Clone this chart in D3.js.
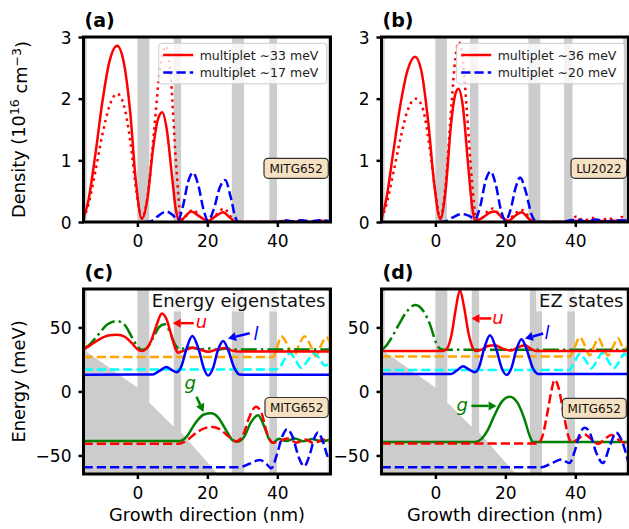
<!DOCTYPE html>
<html><head><meta charset="utf-8">
<script src="https://cdn.jsdelivr.net/npm/d3@7"></script>
<style>
body{margin:0;background:#fff}
svg{display:block}
text{font-family:"DejaVu Sans",sans-serif}
</style>
</head><body>
<svg id="chart" width="629" height="529"></svg>
<script>
// ---------------- data ----------------
const xDomain = [-15.4, 55.2];
const xTicks = [0, 20, 40];
const densDomain = [0, 3];
const densTicks = [0, 1, 2, 3];
const energyDomain = [-64.5, 80];
const energyTicks = [-50, 0, 50];

const panelTitles = ["(a)", "(b)", "(c)", "(d)"];
const legendA = ["multiplet \u223C33 meV", "multiplet \u223C17 meV"];
const legendB = ["multiplet \u223C36 meV", "multiplet \u223C20 meV"];
const sampleLabels = ["MITG652", "LU2022", "MITG652", "MITG652"];
const boxTitles = ["Energy eigenstates", "EZ states"];

// barrier layers (nm)
const barriersMITG = [[-16.7,-14.5],[0,3.4],[10.4,12.5],[27,30.5],[37.7,39.9],[54.4,57.8]];
const barriersLU = [[-16.9,-14.5],[0,3.3],[9.9,12.3],[26.6,30.0],[36.8,39.2],[53.7,57]];
// conduction-band floor in wells: [x0, E0, x1, E1] (nm, meV)
const wellFloorsMITG = [[-14.5,31,0,3],[3.4,-8.6,10.4,-27.5],[12.5,-32,27,-77],[30.5,-85,37.7,-105],[39.9,-110,54.4,-150]];

// panel (a) densities
const aRedSolid = [[-15.4,0.06],[-14,0.35],[-12,1.1],[-10,1.95],[-8,2.6],[-5.8,2.86],[-4,2.62],[-2,1.75],[-0.5,0.7],[1.3,0.05],[2.8,0.35],[4.5,1.2],[5.8,1.65],[7.1,1.78],[8.4,1.5],[9.8,0.8],[11,0.2],[12.2,0.01],[13.5,0.08],[15.4,0.17],[17.5,0.1],[20.2,0.02],[22.5,0.1],[24.5,0.16],[26.5,0.07],[28.3,0],[40,0],[42,0.02],[44.5,0],[47,0.02],[49.5,0],[52,0.02],[55.2,0]];
const aRedDotted = [[-15.4,0.05],[-14,0.28],[-12,0.82],[-10,1.42],[-8,1.88],[-5.8,2.08],[-4,1.92],[-2,1.3],[-0.3,0.5],[1.3,0.06],[3,0.45],[4.8,1.5],[6.5,2.5],[8.1,2.85],[9.6,2.3],[11,1.0],[12.6,0.04],[14,0.1],[15.9,0.2],[18,0.08],[20.2,0.02],[22.5,0.12],[24.8,0.22],[26.5,0.1],[28.3,0],[40,0],[42,0.02],[44.5,0],[47,0.03],[49.5,0],[52,0.02],[55.2,0]];
const aBlueDashed = [[2,0],[3.8,0.01],[5.5,0.08],[8.3,0.17],[10.2,0.11],[11.6,0.03],[13,0.25],[14.5,0.65],[15.9,0.8],[17.4,0.6],[19,0.18],[20.2,0.02],[21.8,0.2],[23.5,0.55],[25.1,0.68],[26.6,0.42],[28,0.08],[28.8,0],[40,0],[42,0.03],[44.5,0.01],[47,0.03],[49.5,0.01],[52,0.03],[55.2,0.01]];

// panel (b) densities
const bRedSolid = [[-15.4,0.05],[-14,0.38],[-12,1.15],[-10,1.9],[-8,2.45],[-5.8,2.68],[-4,2.45],[-2,1.6],[-0.3,0.6],[1.4,0.05],[2.9,0.5],[4.5,1.6],[5.6,2.05],[6.6,2.16],[7.8,1.9],[9.4,0.9],[10.5,0.25],[11.4,0.02],[13.5,0.07],[15.5,0.15],[17,0.17],[19,0.08],[20.9,0.02],[23,0.11],[24.7,0.16],[26.4,0.07],[28,0],[38,0],[40,0.02],[43,0.01],[46,0.02],[49,0.01],[52,0.02],[55.2,0.01]];
const bRedDotted = [[-15.4,0.05],[-14,0.28],[-12,0.8],[-10,1.35],[-8,1.8],[-5.5,2.0],[-3.5,1.82],[-1.5,1.15],[0,0.5],[1.4,0.06],[2.9,0.6],[4.6,1.9],[5.7,2.65],[6.6,2.92],[7.6,2.75],[9,1.8],[10.4,0.7],[11.6,0.08],[12.6,0.02],[14.5,0.15],[16.5,0.22],[18.5,0.1],[20.5,0.02],[22.5,0.12],[24.5,0.2],[26.5,0.1],[28,0],[36,0],[38.4,0.03],[40.4,0.09],[42.4,0.02],[44.7,0.07],[47,0.01],[49.5,0.07],[51.5,0.01],[53.3,0.08],[55.2,0.04]];
const bBlueDashed = [[1,0],[2.8,0.01],[4.8,0.07],[7.6,0.13],[9.6,0.1],[11.4,0.05],[12.8,0.25],[14.4,0.68],[15.8,0.82],[17.2,0.62],[18.8,0.18],[20,0.02],[21.5,0.2],[23,0.57],[24.2,0.72],[25.8,0.5],[27.5,0.12],[29,0],[36,0],[38,0.02],[40.5,0.04],[43,0.01],[46,0.04],[49,0.01],[52,0.03],[55.2,0.02]];

// panel (c) energy eigenstates (meV)
const cGreenDashDot = [[-15.4,33],[-13.5,37],[-11,45],[-8.5,52.5],[-5.8,55],[-3.5,51.5],[-1.5,42],[0.2,34.5],[1.4,32.5],[2.8,34],[4.5,42],[6.3,50.5],[7.8,52.5],[9.2,47],[10.7,37],[12.2,33],[13.5,33.8],[15.5,34.2],[18,32.8],[20.5,33.6],[23,32.6],[25.5,33.5],[28,32.8],[55.2,32.8]];
const cRedSolid = [[-15.4,33],[-13.5,36],[-11,40.5],[-8,43.8],[-5.8,44.3],[-3.5,42.5],[-1.5,37.5],[0.2,32.5],[1.2,31.5],[2.4,33],[4,40],[5.5,52],[7,60.9],[8.4,56],[9.6,45],[10.8,34],[11.6,30.3],[13,31.5],[15.9,34.2],[18,32.5],[20.2,31],[22.5,32.5],[25,34],[27,32],[29,31.2],[55.2,31.2]];
const cOrange = [[-15.4,26.8],[38.7,26.8],[39.8,33],[41.1,43],[42.6,38],[44.7,27.5],[46.3,37],[47.8,43],[49.3,37],[51,27.5],[52.5,36],[54,42.5],[55.2,37]];
const cCyan = [[-15.4,17.1],[38.7,17.1],[40.5,18],[42,25],[43.7,30],[45.3,24],[46.8,18.5],[48.7,24],[50.5,30],[52.2,25],[53.7,20],[55.2,25]];
const cBlueSolid = [[-15.4,13.1],[4.5,13.3],[6.3,16],[8.3,19],[10,16.5],[11.2,15],[12.5,19],[13.9,32],[15.7,43.3],[17.5,33],[19,18],[20.2,12.4],[21.6,18],[23,32],[24.5,39.4],[26,32],[27.6,19],[29.2,13.3],[31,13.1],[55.2,13.1]];
const cGreenSolid = [[-15.4,-38.8],[12.1,-38.8],[14,-35.5],[16.5,-25],[19,-18],[21.1,-17],[23,-20],[25.5,-31],[27.2,-38],[28.7,-39.3],[30.5,-35.5],[32.5,-24],[34.5,-18.6],[36.2,-27],[37.5,-36.5],[38.7,-40],[40.5,-37],[42.5,-38.8],[45,-36.8],[47.5,-39],[50,-37.2],[52.5,-39],[55.2,-37.5]];
const cRedDashed = [[-15.4,-40.9],[12,-40.9],[14,-38.5],[17,-32],[19.5,-28.5],[21.4,-27.8],[23.5,-29.5],[26,-35],[28.3,-39],[30.2,-34],[32,-20],[33.9,-12],[35.5,-17],[37,-32],[38.7,-40],[41,-38.5],[43,-36.8],[45.5,-40],[48,-37.5],[50.5,-40.5],[53,-37.5],[55.2,-40]];
const cBlueDashed = [[-15.4,-59.3],[28,-59.3],[30,-58.7],[32,-56.5],[35,-53.5],[36.8,-56.5],[38.3,-60],[39.8,-50],[41.3,-36],[42.8,-29.5],[44.3,-35],[46.2,-52],[47.7,-58.5],[49.3,-49],[50.8,-35],[51.6,-32],[53,-39],[54.5,-51.7],[55.2,-55]];

// panel (d) EZ states (meV)
const dGreenDashDot = [[-15.4,32.6],[-14.4,34.6],[-12.5,42],[-10.5,52],[-8,63],[-5.7,67.5],[-3.5,63],[-1.5,52],[0.2,38],[1.3,33.4],[2.5,32.6],[55.2,32.6]];
const dRedSolid = [[-15.4,31.5],[2,31.5],[3.2,33],[4.6,44],[5.8,64],[7,79],[8.2,66],[9.5,45],[10.8,33.5],[11.7,31.5],[13.5,33],[15,35.5],[17,36],[19.5,33],[21.7,32],[23.6,34.5],[25.6,36],[27.5,33],[28.9,31.5],[55.2,31.5]];
const dOrange = [[-15.4,27.3],[38.4,27.3],[39.6,33],[41.3,42.5],[42.7,36],[44.1,28],[45.3,35],[46.6,41.5],[48,34],[49.4,28],[50.8,35],[52.2,41.5],[53.8,34],[55.2,34.5]];
const dCyan = [[-15.4,16.8],[38.2,16.8],[39.6,22],[41.3,29.5],[43,24],[44.5,18],[46,23],[47.7,30],[49.4,24],[51,18],[52.5,23],[54,29.5],[55.2,26]];
const dBlueSolid = [[-15.4,13.7],[4.5,13.7],[6.2,16.5],[7.9,19.7],[9.7,17],[11.3,15],[12.5,19],[13.9,33],[15.6,43.9],[17.4,33],[19,18],[20.3,12.9],[21.7,18],[23.1,32],[24.6,40.7],[26.2,32],[27.8,18.5],[29.4,13.7],[55.2,13.7]];
const dGreenSolid = [[-15.4,-39.6],[11.3,-39.6],[13,-37.5],[15,-30],[17,-18],[19,-8],[21.3,-4.2],[23.5,-9],[25.5,-22],[27,-35],[27.9,-39.6],[55.2,-39.6]];
const dRedDashed = [[-15.4,-40.6],[29.4,-40.6],[30.6,-35],[32,-17],[33,-2],[34.1,9],[35.2,3],[36.5,-15],[38,-35],[38.9,-40],[40.6,-37.5],[42.7,-33.6],[44.8,-38],[46.5,-41],[48.5,-37],[50.3,-34],[52.5,-38],[54.6,-40.5],[55.2,-39.5]];
const dBlueDashed = [[-15.4,-59.3],[30.3,-59.3],[33,-56.5],[36,-53.2],[38.3,-56],[39.8,-47],[41.3,-33],[42.7,-28.3],[44.1,-32],[46,-48],[47.9,-56],[49.8,-43],[51.7,-32.3],[53.5,-40],[55.2,-56]];

// annotations: label, colour, label position (nm, meV baseline), arrow tail, arrow head
const annotC = [
  {t:"u", c:"#ff0000", tx:18.3, ty:49.3, x0:16.1, y0:53.3, x1:10.1, y1:53.3},
  {t:"l", c:"#0000ff", tx:33.9, ty:39.9, x0:32.1, y0:45.5, x1:25.9, y1:41.3},
  {t:"g", c:"#008000", tx:15.1, ty:2.1,  x0:16.9, y0:-4.2, x1:18.9, y1:-16}
];
const annotD = [
  {t:"u", c:"#ff0000", tx:17.9, ty:53,   x0:16.0, y0:57,   x1:10.3, y1:57},
  {t:"l", c:"#0000ff", tx:31.9, ty:41.2, x0:30.8, y0:45.2, x1:25.6, y1:41.3},
  {t:"g", c:"#008000", tx:7.65, ty:-15,  x0:10.3, y0:-11.3, x1:17.5, y1:-11.3}
];

// ---------------- drawing ----------------
const svg = d3.select("#chart");
const GRAY = "#cccccc";
const LW = 2.5;
const DASH = "9.25,4", DOT = "2.5,4.1", DASHDOT = "16,4,2.5,4";
const fmt = d => (d < 0 ? "\u2212" + Math.abs(d) : String(d));

const layout = {
  a: {left:83.5, right:330.5, top:37, bottom:222},
  b: {left:381.5, right:628.5, top:37, bottom:222},
  c: {left:83.5, right:330.5, top:289, bottom:474},
  d: {left:381.5, right:628.5, top:289, bottom:474}
};

function makePanel(key, yDomain, yTicks, title, xTitle) {
  const L = layout[key];
  const x = d3.scaleLinear().domain(xDomain).range([L.left, L.right]);
  const y = d3.scaleLinear().domain(yDomain).range([L.bottom, L.top]);
  svg.append("clipPath").attr("id", "clip-" + key).append("rect")
    .attr("x", L.left).attr("y", L.top).attr("width", L.right - L.left).attr("height", L.bottom - L.top);
  const g = svg.append("g");
  const plot = g.append("g").attr("clip-path", `url(#clip-${key})`);
  const over = g.append("g");
  const xa = g.append("g").attr("transform", `translate(0,${L.bottom})`)
    .call(d3.axisBottom(x).tickValues(xTicks).tickSize(5).tickPadding(4).tickFormat(fmt));
  const ya = g.append("g").attr("transform", `translate(${L.left},0)`)
    .call(d3.axisLeft(y).tickValues(yTicks).tickSize(5).tickPadding(7).tickFormat(fmt));
  [xa, ya].forEach(a => {
    a.select(".domain").remove();
    a.selectAll(".tick line").attr("stroke", "#000").attr("stroke-width", 2.5);
    a.selectAll(".tick text").attr("fill", "#000").style("font-size", "17px")
      .style("font-family", '"DejaVu Sans", sans-serif');
  });
  ya.selectAll(".tick text").attr("dy", "0.36em");
  xa.selectAll(".tick text").attr("y", 24.5).attr("dy", 0);
  g.append("text").attr("x", L.left + 1).attr("y", L.top - 10)
    .style("font-size", "19px").style("font-weight", "bold").text(title);
  if (xTitle) {
    g.append("text").attr("x", (L.left + L.right) / 2).attr("y", L.bottom + 47)
      .attr("text-anchor", "middle").style("font-size", "17.8px").text("Growth direction (nm)");
  }
  return {x, y, g, plot, over, L};
}

function drawBarriers(p, bars) {
  p.plot.selectAll(null).data(bars).enter().append("rect")
    .attr("x", d => p.x(d[0])).attr("width", d => p.x(d[1]) - p.x(d[0]))
    .attr("y", p.L.top).attr("height", p.L.bottom - p.L.top).attr("fill", GRAY);
}

function drawBand(p, bars, wells) {
  const pts = [];
  const segs = [];
  bars.forEach(b => segs.push({x0:b[0], e0:400, x1:b[1], e1:400}));
  wells.forEach(w => segs.push({x0:w[0], e0:w[1], x1:w[2], e1:w[3]}));
  segs.sort((a, b) => a.x0 - b.x0);
  pts.push([segs[0].x0, -400]);
  segs.forEach(s => { pts.push([s.x0, s.e0]); pts.push([s.x1, s.e1]); });
  pts.push([segs[segs.length - 1].x1, -400]);
  p.plot.append("path").datum(pts)
    .attr("d", d3.line().x(d => p.x(d[0])).y(d => p.y(d[1])))
    .attr("fill", GRAY).attr("stroke", "none");
}

function drawLine(p, data, color, dash) {
  p.plot.append("path").datum(data)
    .attr("d", d3.line().x(d => p.x(d[0])).y(d => p.y(d[1])).curve(d3.curveMonotoneX))
    .attr("fill", "none").attr("stroke", color).attr("stroke-width", LW)
    .attr("stroke-dasharray", dash || null);
}

function drawLegend(p, labels) {
  const L = p.L;
  const x0 = L.right - 171.8, y0 = L.top + 6.3;
  const lg = p.over.append("g");
  lg.append("rect").attr("x", x0).attr("y", y0).attr("width", 168).attr("height", 40.5)
    .attr("rx", 3).attr("fill", "#fff").attr("fill-opacity", 0.8)
    .attr("stroke", "#cccccc").attr("stroke-width", 1);
  const styles = [["#ff0000", null], ["#0000ff", DASH]];
  labels.forEach((t, i) => {
    const yy = y0 + 11.7 + i * 17.5;
    lg.append("line").attr("x1", x0 + 4.5).attr("x2", x0 + 34.5).attr("y1", yy).attr("y2", yy)
      .attr("stroke", styles[i][0]).attr("stroke-width", LW).attr("stroke-dasharray", styles[i][1]);
    lg.append("text").attr("x", x0 + 41).attr("y", yy).attr("dy", "0.36em")
      .style("font-size", "12.5px").attr("fill", "#222").text(t);
  });
}

function drawSampleBox(p, label, dx, dy, w) {
  const L = p.L;
  const bx = L.right - dx, by = L.top + dy;
  p.over.append("rect").attr("x", bx).attr("y", by).attr("width", w).attr("height", 20)
    .attr("rx", 4).attr("fill", "#f6e2c3").attr("stroke", "#333").attr("stroke-width", 1.2);
  p.over.append("text").attr("x", bx + w / 2).attr("y", by + 10).attr("dy", "0.36em")
    .attr("text-anchor", "middle").style("font-size", "12px").attr("fill", "#111").text(label);
}

function drawBoxTitle(p, label) {
  const L = p.L;
  const t = p.over.append("text").attr("x", L.right - 5).attr("y", L.top + 17.5)
    .attr("text-anchor", "end").style("font-size", "18px").attr("fill", "#111").text(label);
  const bb = t.node().getBBox();
  p.over.insert("rect", "text").attr("x", bb.x - 3).attr("y", L.top + 1.5)
    .attr("width", bb.width + 5).attr("height", bb.y + bb.height + 1 - (L.top + 1.5))
    .attr("fill", "#fff").attr("fill-opacity", 0.75);
}

function drawAnnots(p, list) {
  list.forEach(a => {
    const X0 = p.x(a.x0), Y0 = p.y(a.y0), X1 = p.x(a.x1), Y1 = p.y(a.y1);
    const ang = Math.atan2(Y1 - Y0, X1 - X0);
    const hl = 8, hw = 4.5;
    const bx = X1 - hl * Math.cos(ang), by = Y1 - hl * Math.sin(ang);
    p.over.append("line").attr("x1", X0).attr("y1", Y0).attr("x2", bx).attr("y2", by)
      .attr("stroke", a.c).attr("stroke-width", 2.5);
    const px = -Math.sin(ang), py = Math.cos(ang);
    p.over.append("path")
      .attr("d", `M${X1},${Y1}L${bx + hw * px},${by + hw * py}L${bx - hw * px},${by - hw * py}Z`)
      .attr("fill", a.c);
    p.over.append("text").attr("x", p.x(a.tx)).attr("y", p.y(a.ty))
      .attr("text-anchor", "middle").style("font-size", "18px").style("font-style", "italic")
      .attr("fill", a.c).text(a.t);
  });
}

function drawSpine(p) {
  const L = p.L;
  p.g.append("rect").attr("x", L.left).attr("y", L.top).attr("width", L.right - L.left)
    .attr("height", L.bottom - L.top).attr("fill", "none").attr("stroke", "#000").attr("stroke-width", 3);
}

// panel a
const pa = makePanel("a", densDomain, densTicks, panelTitles[0], false);
drawBarriers(pa, barriersMITG);
drawLine(pa, aRedDotted, "#ff0000", DOT);
drawLine(pa, aRedSolid, "#ff0000");
drawLine(pa, aBlueDashed, "#0000ff", DASH);
drawLegend(pa, legendA);
drawSampleBox(pa, sampleLabels[0], 66.5, 121.3, 64.3);
drawSpine(pa);

// panel b
const pb = makePanel("b", densDomain, densTicks, panelTitles[1], false);
drawBarriers(pb, barriersLU);
drawLine(pb, bRedDotted, "#ff0000", DOT);
drawLine(pb, bRedSolid, "#ff0000");
drawLine(pb, bBlueDashed, "#0000ff", DASH);
drawLegend(pb, legendB);
drawSampleBox(pb, sampleLabels[1], 57.5, 121.3, 55.7);
drawSpine(pb);

// panel c
const pc = makePanel("c", energyDomain, energyTicks, panelTitles[2], true);
drawBand(pc, barriersMITG, wellFloorsMITG);
drawLine(pc, cOrange, "#ffa500", DASH);
drawLine(pc, cCyan, "#00ffff", DASH);
drawLine(pc, cGreenDashDot, "#008000", DASHDOT);
drawLine(pc, cRedSolid, "#ff0000");
drawLine(pc, cBlueSolid, "#0000ff");
drawLine(pc, cGreenSolid, "#008000");
drawLine(pc, cRedDashed, "#ff0000", DASH);
drawLine(pc, cBlueDashed, "#0000ff", DASH);
drawBoxTitle(pc, boxTitles[0]);
drawSampleBox(pc, sampleLabels[2], 65.5, 108.5, 63.3);
drawAnnots(pc, annotC);
drawSpine(pc);

// panel d
const pd = makePanel("d", energyDomain, energyTicks, panelTitles[3], true);
drawBand(pd, barriersMITG, wellFloorsMITG);
drawLine(pd, dOrange, "#ffa500", DASH);
drawLine(pd, dCyan, "#00ffff", DASH);
drawLine(pd, dGreenDashDot, "#008000", DASHDOT);
drawLine(pd, dRedSolid, "#ff0000");
drawLine(pd, dBlueSolid, "#0000ff");
drawLine(pd, dGreenSolid, "#008000");
drawLine(pd, dRedDashed, "#ff0000", DASH);
drawLine(pd, dBlueDashed, "#0000ff", DASH);
drawBoxTitle(pd, boxTitles[1]);
drawSampleBox(pd, sampleLabels[3], 66.2, 109.3, 64);
drawAnnots(pd, annotD);
drawSpine(pd);

// y-axis titles
const yt1 = svg.append("text").attr("transform", `translate(24.5,${(layout.a.top + layout.a.bottom) / 2}) rotate(-90)`)
  .attr("text-anchor", "middle").style("font-size", "17.8px");
yt1.append("tspan").text("Density (10");
yt1.append("tspan").attr("dy", "-0.45em").style("font-size", "12.5px").text("16");
yt1.append("tspan").attr("dy", "0.45em").text(" cm");
yt1.append("tspan").attr("dy", "-0.45em").style("font-size", "12.5px").text("\u22123");
yt1.append("tspan").attr("dy", "0.45em").text(")");
svg.append("text").attr("transform", `translate(24.5,${(layout.c.top + layout.c.bottom) / 2}) rotate(-90)`)
  .attr("text-anchor", "middle").style("font-size", "17.8px").text("Energy (meV)");
</script>
</body></html>
